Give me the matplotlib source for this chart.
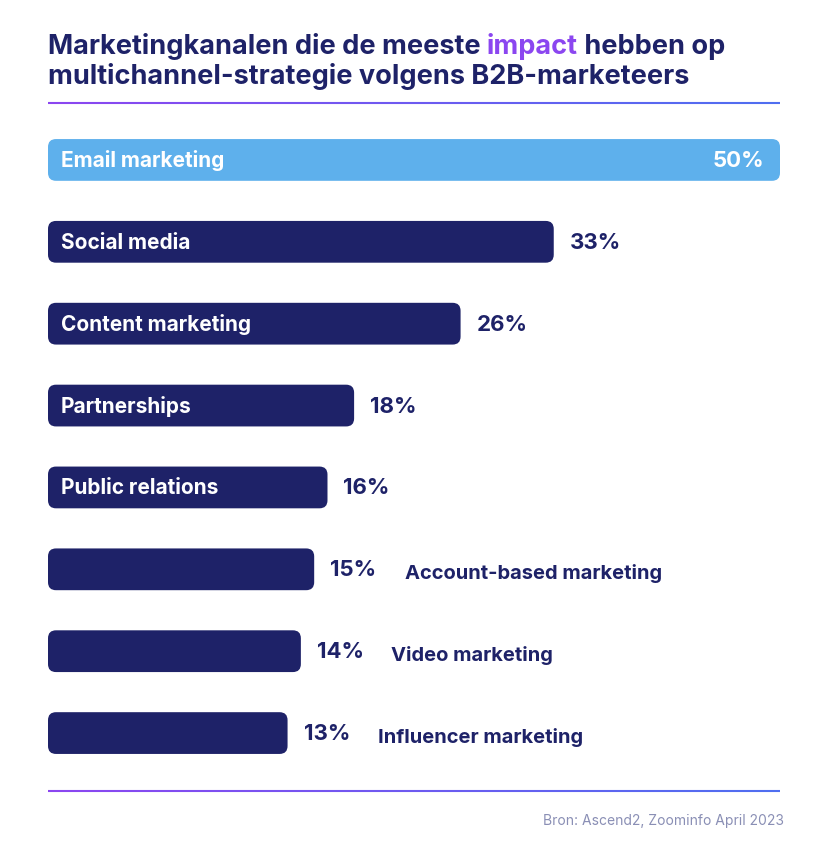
import numpy as np
import matplotlib.pyplot as plt
from matplotlib.patches import FancyBboxPatch
from matplotlib.collections import LineCollection
from matplotlib.colors import LinearSegmentedColormap

channels = ["Email marketing", "Social media", "Content marketing", "Partnerships",
            "Public relations", "Account-based marketing", "Video marketing", "Influencer marketing"]
values = [50, 33, 26, 18, 16, 15, 14, 13]
inside = [True, True, True, True, True, False, False, False]

NAVY = "#1e2268"
LIGHT = "#5eb0ec"
plt.rcParams['font.family'] = ['Inter', 'DejaVu Sans']

W, H = 832, 853
fig = plt.figure(figsize=(W / 100, H / 100), dpi=100)
fig.patch.set_facecolor("white")

# title
TS = 19.5
t = fig.text(48 / W, 1 - 47 / H, "Marketingkanalen die de meeste ", fontsize=TS, weight="bold",
             color=NAVY, va="center")
fig.canvas.draw()
bb = t.get_window_extent()
t2 = fig.text(bb.x1 / W, 1 - 47 / H, "impact", fontsize=TS, weight="bold", color="#8b46f0", va="center")
fig.canvas.draw()
bb2 = t2.get_window_extent()
fig.text(bb2.x1 / W, 1 - 47 / H, " hebben op", fontsize=TS, weight="bold", color=NAVY, va="center")
fig.text(48 / W, 1 - 76 / H, "multichannel-strategie volgens B2B-marketeers", fontsize=TS,
         weight="bold", color=NAVY, va="center")

# gradient lines
cmap = LinearSegmentedColormap.from_list("g", ["#8b46f0", "#4f6ef0"])
for ypx in (104, 792):
    xs = np.linspace(48 / W, 780 / W, 100)
    y = 1 - ypx / H
    segs = [[(xs[i], y), (xs[i + 1], y)] for i in range(len(xs) - 1)]
    lc = LineCollection(segs, colors=cmap(np.linspace(0, 1, len(segs))), linewidths=1.5,
                        transform=fig.transFigure)
    fig.add_artist(lc)

fig.text(784 / W, 1 - 821 / H, "Bron: Ascend2, Zoominfo April 2023", fontsize=10, color="#8a8fb5",
         ha="right", va="center")

# bars
base = -5
top, bot = 120, 775
ax = fig.add_axes([48 / W, 1 - bot / H, 732 / W, (bot - top) / H])
ax.set_xlim(base, 50)
ax.set_ylim(len(values) - 0.5, -0.5)
ax.axis("off")
aspect = (len(values) / (bot - top)) / ((50 - base) / 732)
bh = 0.51
for i, (name, v, ins) in enumerate(zip(channels, values, inside)):
    col = LIGHT if i == 0 else NAVY
    ax.add_patch(FancyBboxPatch((base, i - bh / 2), v - base, bh,
                                boxstyle="round,pad=0,rounding_size=0.6",
                                mutation_aspect=aspect, fc=col, ec="none"))
    if ins:
        ax.text(base + 0.95, i, name, color="white", fontsize=15, weight="bold", va="center")
    if i == 0:
        ax.text(v - 1.2, i, f"{v}%", color="white", fontsize=16, weight="bold", va="center", ha="right")
    else:
        ax.text(v + 1.2, i, f"{v}%", color=NAVY, fontsize=16, weight="bold", va="center")
    if not ins:
        ax.text(v + 6.8, i + 0.04, name, color=NAVY, fontsize=14.5, weight="bold", va="center")

fig.savefig("out.png", dpi=100)
